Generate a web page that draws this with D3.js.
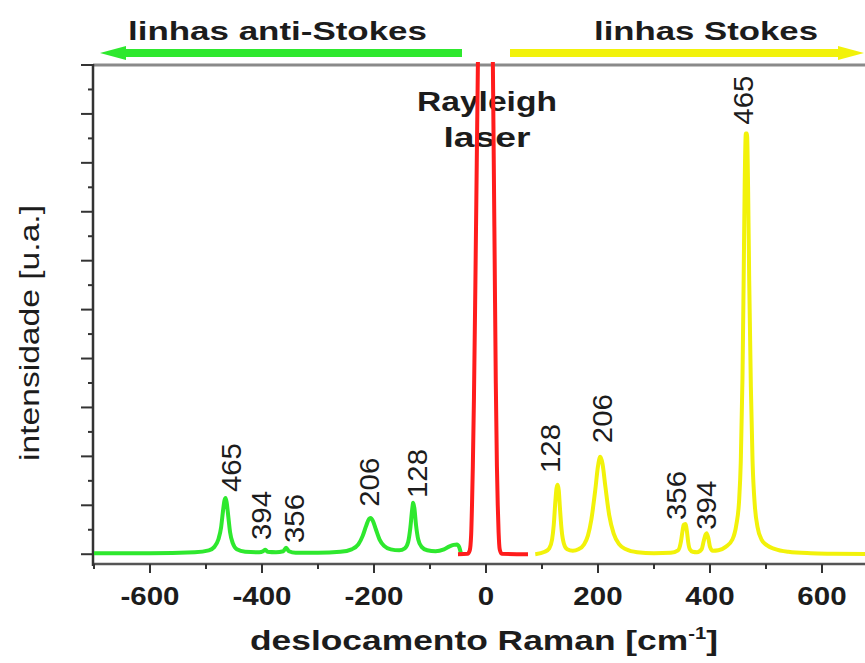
<!DOCTYPE html>
<html><head><meta charset="utf-8">
<script src="https://cdn.jsdelivr.net/npm/d3@7"></script>
<style>
html,body{margin:0;padding:0;background:#fff;}
text{font-family:"Liberation Sans",Arial,sans-serif;fill:#1c1c1c;}
</style></head>
<body><svg id="c" width="865" height="663"></svg>
<script>
// ---------- data ----------
const antiStokesX = [-700,-600,-520,-495,-485,-478,-473,-470,-467,-465,-463,-460,-457,-452,-445,-430,-405,-398,-394,-390,-375,-362,-357,-352,-340,-300,-260,-240,-228,-220,-214,-209,-206,-202,-197,-190,-182,-170,-155,-145,-139,-135,-132,-130,-128,-125,-121,-115,-105,-90,-75,-65,-58,-52,-48,-45];
const antiStokesY = [0.02,0.02,0.04,0.08,0.15,0.3,0.55,0.85,1.1,1.15,1.05,0.75,0.45,0.22,0.1,0.05,0.04,0.06,0.09,0.05,0.04,0.06,0.13,0.06,0.03,0.03,0.05,0.1,0.2,0.38,0.58,0.72,0.74,0.68,0.52,0.3,0.17,0.1,0.08,0.12,0.25,0.55,0.9,1.05,0.95,0.6,0.3,0.15,0.08,0.06,0.1,0.16,0.19,0.2,0.15,0.03];
const rayleighX = [-50,-33,-29,-26.5,-25,-23.5,-21.5,-19,-16.5,-14.5,-12.5,-10,-6,0,6,9.5,11.5,13.5,15.5,17.5,19.5,21,22.5,24.5,28,75];
const rayleighY = [0,0.01,0.08,0.4,1.0,1.8,3.2,5.5,8,10,12,15,16.5,17,16.5,14,11,8.5,6,3.5,1.8,1.0,0.45,0.1,0.01,0];
const stokesX = [88,105,113,118,121,124,126,128,130,132,135,139,145,155,165,175,182,188,195,200,204,208,213,220,228,238,250,270,300,330,343,348,351,353,356,359,361,364,369,377,385,389,392,394,397,400,405,415,428,440,447,452,455,458,460,462,464,466,468,470,473,476,480,485,492,502,515,540,580,620,700];
const stokesY = [0,0.05,0.12,0.3,0.6,1.1,1.35,1.42,1.3,0.95,0.5,0.22,0.1,0.07,0.1,0.2,0.38,0.7,1.3,1.8,1.99,1.85,1.4,0.8,0.42,0.2,0.1,0.04,0.02,0.03,0.08,0.25,0.48,0.6,0.62,0.45,0.25,0.1,0.05,0.04,0.1,0.28,0.4,0.43,0.33,0.15,0.07,0.08,0.15,0.3,0.6,1.1,1.9,3.6,5.5,7.6,8.6,8.6,7.5,5.6,3.4,1.9,1.0,0.55,0.3,0.18,0.11,0.05,0.02,0.01,0];

const xMajorTicks = [-600,-400,-200,0,200,400,600];
const xMinorTicks = [-700,-500,-300,-100,100,300,500,700];
const yMajorTicks = [0,1,2,3,4,5,6,7,8,9,10];
const yMinorTicks = [0.5,1.5,2.5,3.5,4.5,5.5,6.5,7.5,8.5,9.5];

const stokesLabels = ["128","206","356","394","465"];
const stokesLabelX = [116,209,341,395,461];
const stokesLabelBase = [1.66,2.27,0.70,0.50,8.78];
const antiLabels = ["465","394","356","206","128"];
const antiLabelX = [-454,-400,-341,-207,-121];
const antiLabelBase = [1.27,0.29,0.23,0.97,1.15];

const headerTexts = ["linhas anti-Stokes","linhas Stokes"];
const rayleighTexts = ["Rayleigh","laser"];
const xTitle = "deslocamento Raman [cm";
const yTitle = "intensidade [u.a.]";

// ---------- drawing ----------
const svg = d3.select("#c");
const green = "#2ee82e", yellow = "#f2f20a", red = "#ff1c1c";
const x = d3.scaleLinear().domain([-700,700]).range([94,878]);
const y = d3.scaleLinear().domain([-0.2,10]).range([564,65]);

svg.append("defs").append("clipPath").attr("id","clip")
  .append("rect").attr("x",94).attr("y",62).attr("width",780).attr("height",502);

function stretch(sel, target){
  sel.each(function(){ this.setAttribute("textLength", target); this.setAttribute("lengthAdjust","spacingAndGlyphs"); });
}

// top frame line
svg.append("line").attr("x1",93).attr("x2",865).attr("y1",65).attr("y2",65)
  .attr("stroke","#8a8a8a").attr("stroke-width",3);

// Rayleigh laser text (under the curves)
svg.append("text").attr("x",487).attr("y",111).attr("text-anchor","middle").attr("font-size",27).attr("font-weight","bold").text(rayleighTexts[0]).call(stretch,140);
svg.append("text").attr("x",487).attr("y",147).attr("text-anchor","middle").attr("font-size",27).attr("font-weight","bold").text(rayleighTexts[1]).call(stretch,87);

// axes
const axB = svg.append("g").attr("transform","translate(0,564)");
axB.append("line").attr("x1",93).attr("x2",865).attr("stroke","#555").attr("stroke-width",2.5);
axB.selectAll(".mj").data(xMajorTicks).join("line").attr("x1",d=>x(d)).attr("x2",d=>x(d))
  .attr("y1",0).attr("y2",9).attr("stroke","#333").attr("stroke-width",2);
axB.selectAll(".mn").data(xMinorTicks).join("line").attr("x1",d=>x(d)).attr("x2",d=>x(d))
  .attr("y1",0).attr("y2",5).attr("stroke","#333").attr("stroke-width",2);
axB.selectAll("text.tl").data(xMajorTicks).join("text").attr("class","tl")
  .attr("x",d=>x(d)).attr("y",41).attr("text-anchor","middle")
  .attr("font-size",25).attr("font-weight","bold").text(d=>d)
  .each(function(){ const w=this.getComputedTextLength(); this.setAttribute("textLength", w*1.18); this.setAttribute("lengthAdjust","spacingAndGlyphs"); });

const axL = svg.append("g");
axL.append("line").attr("x1",93).attr("x2",93).attr("y1",64).attr("y2",566).attr("stroke","#333").attr("stroke-width",2.5);
axL.selectAll(".mj").data(yMajorTicks).join("line").attr("x1",81).attr("x2",93)
  .attr("y1",d=>y(d)).attr("y2",d=>y(d)).attr("stroke","#333").attr("stroke-width",2);
axL.selectAll(".mn").data(yMinorTicks).join("line").attr("x1",88).attr("x2",93)
  .attr("y1",d=>y(d)).attr("y2",d=>y(d)).attr("stroke","#333").attr("stroke-width",2);

// curves
const plot = svg.append("g").attr("clip-path","url(#clip)");
const line = d3.line().x(d=>x(d[0])).y(d=>y(d[1])).curve(d3.curveMonotoneX);
plot.append("path").attr("d", line(d3.zip(antiStokesX, antiStokesY))).attr("fill","none").attr("stroke",green).attr("stroke-width",4).attr("stroke-linejoin","round");
plot.append("path").attr("d", line(d3.zip(stokesX, stokesY))).attr("fill","none").attr("stroke",yellow).attr("stroke-width",4).attr("stroke-linejoin","round");
plot.append("path").attr("d", line(d3.zip(rayleighX, rayleighY))).attr("fill","none").attr("stroke",red).attr("stroke-width",4).attr("stroke-linejoin","round");

// peak labels
function peakLabels(labels, xs, bases){
  svg.append("g").selectAll("text").data(labels).join("text")
    .attr("transform",(d,i)=>`translate(${x(xs[i])},${y(bases[i])}) rotate(-90)`)
    .attr("dominant-baseline","central").attr("text-anchor","start")
    .attr("font-size",27).text(d=>d).call(stretch, 49);
}
peakLabels(stokesLabels, stokesLabelX, stokesLabelBase);
peakLabels(antiLabels, antiLabelX, antiLabelBase);

// headers
svg.append("text").attr("x",128).attr("y",40).attr("font-size",25).attr("font-weight","bold").text(headerTexts[0]).call(stretch,299);
svg.append("text").attr("x",594).attr("y",40).attr("font-size",25).attr("font-weight","bold").text(headerTexts[1]).call(stretch,224);

// arrows
svg.append("rect").attr("x",118).attr("y",49).attr("width",344).attr("height",8).attr("fill",green);
svg.append("path").attr("d","M100,53 L126,46 L126,60 Z").attr("fill",green);
svg.append("rect").attr("x",510).attr("y",49).attr("width",336).attr("height",8).attr("fill",yellow);
svg.append("path").attr("d","M864,53 L838,46 L838,60 Z").attr("fill",yellow);

// axis titles
const xt = svg.append("text").attr("x",250).attr("y",650).attr("font-size",28).attr("font-weight","bold");
xt.append("tspan").text(xTitle);
xt.append("tspan").attr("dy",-11).attr("font-size",16).text("-1");
xt.append("tspan").attr("dy",11).text("]");
stretch(xt, 468);

svg.append("text").attr("transform","translate(30,333) rotate(-90)").attr("text-anchor","middle")
  .attr("dominant-baseline","central").attr("font-size",27).text(yTitle).call(stretch,256);
</script></body></html>
